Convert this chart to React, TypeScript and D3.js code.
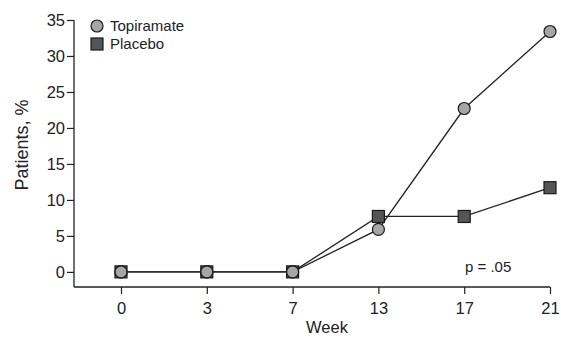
import React from "react";
import * as d3 from "d3";

// chart values
const weeks = ["0", "3", "7", "13", "17", "21"];
const topiramate = [0, 0, 0, 5.9, 22.7, 33.4];
const placebo = [0, 0, 0, 7.7, 7.7, 11.7];
const yTicks = [0, 5, 10, 15, 20, 25, 30, 35];
const seriesNames = ["Topiramate", "Placebo"];

const W = 561;
const H = 339;

const App = () => {
  const svgRef = React.useRef<SVGSVGElement | null>(null);

  React.useEffect(() => {
    const svg = d3.select(svgRef.current);
    svg.selectAll("*").remove();

    const font = "Liberation Sans, Arial, sans-serif";
    const ink = "#222";

    // -- scales --
    const x = d3.scalePoint<string>().domain(weeks).range([121, 550]);
    const y = d3.scaleLinear().domain([-2.1, 35]).range([287, 20]);
    const axisLeftX = 74;

    // -- axes --
    const yAxis = svg
      .append("g")
      .attr("transform", `translate(${axisLeftX},0)`)
      .call(d3.axisLeft(y).tickValues(yTicks).tickSize(7).tickPadding(2).tickSizeOuter(0));
    yAxis.select(".domain").remove();
    yAxis
      .append("line")
      .attr("x1", 0)
      .attr("x2", 0)
      .attr("y1", y(35))
      .attr("y2", y(-2.1))
      .attr("stroke", ink)
      .attr("stroke-width", 1.3);

    const xAxis = svg
      .append("g")
      .attr("transform", `translate(0,${y(-2.1)})`)
      .call(d3.axisBottom(x).tickSize(7).tickPadding(8).tickSizeOuter(0));
    xAxis.select(".domain").remove();
    xAxis
      .append("line")
      .attr("x1", axisLeftX)
      .attr("x2", x("21")!)
      .attr("y1", 0)
      .attr("y2", 0)
      .attr("stroke", ink)
      .attr("stroke-width", 1.3);

    svg
      .selectAll(".tick line")
      .attr("stroke", ink)
      .attr("stroke-width", 1.2);
    svg
      .selectAll(".tick text")
      .attr("fill", ink)
      .style("font-family", font)
      .style("font-size", "16.5px");

    // -- axis titles --
    svg
      .append("text")
      .attr("x", 327)
      .attr("y", 333)
      .attr("text-anchor", "middle")
      .style("font-family", font)
      .style("font-size", "16.5px")
      .attr("fill", ink)
      .text("Week");
    svg
      .append("text")
      .attr("transform", "translate(28,145) rotate(-90)")
      .attr("text-anchor", "middle")
      .style("font-family", font)
      .style("font-size", "18px")
      .attr("fill", ink)
      .text("Patients, %");

    svg
      .append("text")
      .attr("x", 465)
      .attr("y", 272)
      .style("font-family", font)
      .style("font-size", "15px")
      .attr("fill", ink)
      .text("p = .05");

    // -- lines --
    const line = d3
      .line<number>()
      .x((_, i) => x(weeks[i])!)
      .y((d) => y(d));

    svg
      .append("path")
      .datum(placebo)
      .attr("d", line)
      .attr("fill", "none")
      .attr("stroke", ink)
      .attr("stroke-width", 1.3);
    svg
      .append("path")
      .datum(topiramate)
      .attr("d", line)
      .attr("fill", "none")
      .attr("stroke", ink)
      .attr("stroke-width", 1.3);

    // -- markers --
    const sq = 12;
    svg
      .selectAll("circle.topi")
      .data(topiramate)
      .enter()
      .append("circle")
      .attr("cx", (_, i) => x(weeks[i])!)
      .attr("cy", (d) => y(d))
      .attr("r", 6)
      .attr("fill", "#a6a6a6")
      .attr("stroke", "#1a1a1a")
      .attr("stroke-width", 1.2);
    svg
      .selectAll("rect.placebo")
      .data(placebo)
      .enter()
      .append("rect")
      .attr("x", (_, i) => x(weeks[i])! - sq / 2)
      .attr("y", (d) => y(d) - sq / 2)
      .attr("width", sq)
      .attr("height", sq)
      .attr("fill", "#555")
      .attr("stroke", "#1a1a1a")
      .attr("stroke-width", 1.2);
    // at the shared zero weeks the circle sits on top of the square
    svg
      .selectAll("circle.topiTop")
      .data(topiramate.filter((d, i) => d === placebo[i]))
      .enter()
      .append("circle")
      .attr("cx", (_, i) => x(weeks[i])!)
      .attr("cy", (d) => y(d))
      .attr("r", 6)
      .attr("fill", "#a6a6a6")
      .attr("stroke", "#1a1a1a")
      .attr("stroke-width", 1.2);

    // -- legend --
    const legend = svg.append("g").attr("transform", "translate(97,26)");
    legend
      .append("circle")
      .attr("cx", 0)
      .attr("cy", 0)
      .attr("r", 6)
      .attr("fill", "#a6a6a6")
      .attr("stroke", "#1a1a1a")
      .attr("stroke-width", 1.2);
    legend
      .append("rect")
      .attr("x", -6)
      .attr("y", 18 - 6)
      .attr("width", 12)
      .attr("height", 12)
      .attr("fill", "#555")
      .attr("stroke", "#1a1a1a")
      .attr("stroke-width", 1.2);
    legend
      .selectAll("text")
      .data(seriesNames)
      .enter()
      .append("text")
      .attr("x", 13)
      .attr("y", (_, i) => i * 18 + 5)
      .style("font-family", font)
      .style("font-size", "15px")
      .attr("fill", ink)
      .text((d) => d);
  }, []);

  return (
    <svg
      ref={svgRef}
      width={W}
      height={H}
      style={{ position: "absolute", left: 0, top: 0, background: "#fff" }}
    />
  );
};

export default App;
